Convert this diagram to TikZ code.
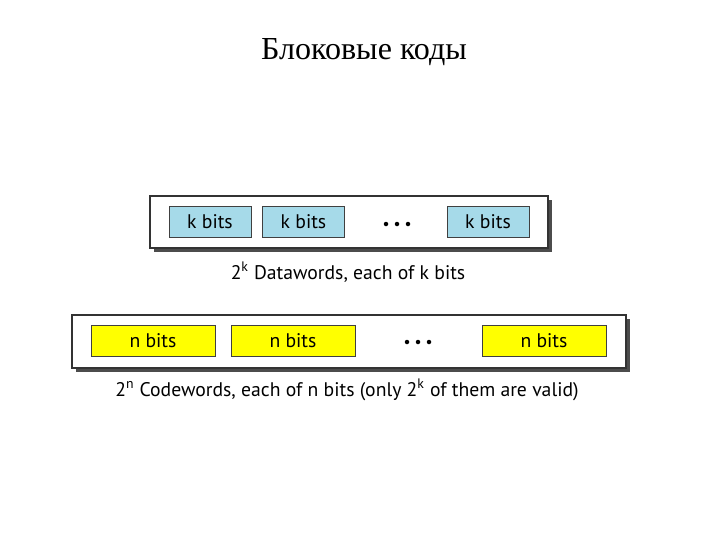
\documentclass[tikz,border=0pt]{standalone}
\usepackage{fontspec}
\setmainfont{Liberation Serif}
\newfontfamily\figfont{PT Sans}
\usetikzlibrary{shadows}
\definecolor{wordblue}{RGB}{166,218,233}
\definecolor{wordyellow}{RGB}{255,255,0}
\newlength{\pxu}
\setlength{\pxu}{0.025cm}
\tikzset{
  frame/.style={draw=black!80, fill=white, line width=0.8pt,
    drop shadow={shadow xshift=3pt, shadow yshift=-3pt, fill=black!70, opacity=1}},
  dataword/.style={draw=black!75, fill=wordblue, line width=0.6pt, inner sep=0pt,
    minimum width=82\pxu, minimum height=31\pxu, font=\figfont\fontsize{14}{16}\selectfont},
  codeword/.style={dataword, fill=wordyellow, minimum width=124\pxu},
  caption/.style={font=\figfont\fontsize{14}{16}\selectfont, inner sep=0pt},
  dot/.style={circle, fill=black, inner sep=0pt, minimum size=4.5\pxu}
}
\begin{document}
\begin{tikzpicture}[x=0.025cm, y=-0.025cm]
            \useasboundingbox (0, 0) rectangle (720, 540);
            \node[font=\fontsize{22.8}{26}\selectfont] (title) at (364, 52) {Блоковые коды};
            % datawords
            \draw[frame] (150, 196) rectangle (548, 248);
            \node[dataword] (d1) at (210, 222) {k bits};
            \node[dataword] (d2) at (303.5, 222) {k bits};
            \foreach \i in {-1,0,1}
              \node[dot] (ddot\i) at (397+11*\i, 224) {};
            \node[dataword] (d3) at (488, 222) {k bits};
            \node[caption] (dcap) at (348, 272) {2\textsuperscript{k} Datawords, each of k bits};
            % codewords
            \draw[frame] (72, 315) rectangle (626, 368);
            \node[codeword] (c1) at (153, 341) {n bits};
            \node[codeword] (c2) at (293, 341) {n bits};
            \foreach \i in {-1,0,1}
              \node[dot] (cdot\i) at (418+11*\i, 342) {};
            \node[codeword] (c3) at (544, 341) {n bits};
            \node[caption] (ccap) at (347, 390) {2\textsuperscript{n} Codewords, each of n bits (only 2\textsuperscript{k} of them are valid)};
        \end{tikzpicture}
\end{document}
